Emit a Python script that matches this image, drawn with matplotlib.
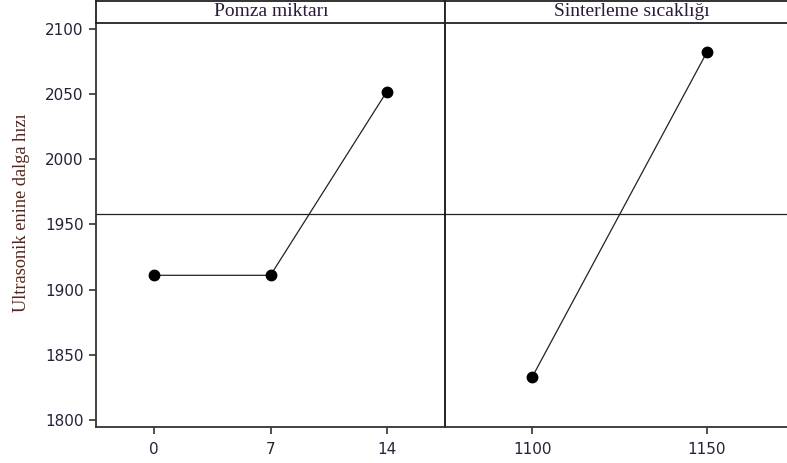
import numpy as np
import matplotlib.pyplot as plt

# values
pomza_levels = ['0', '7', '14']
pomza_means = [1911, 1911, 2052]
sicaklik_levels = ['1100', '1150']
sicaklik_means = [1833, 2082]
grand_mean = 1958
panel_titles = ['Pomza miktarı', 'Sinterleme sıcaklığı']
y_ticks = [1800, 1850, 1900, 1950, 2000, 2050, 2100]

W, H = 787, 463
fig = plt.figure(figsize=(W / 100, H / 100), dpi=100)

tick_color = '#23233a'
serif = ['Liberation Serif', 'DejaVu Serif']

def px(x0, y0, x1, y1):
    # pixel box -> figure fraction
    return [x0 / W, 1 - y1 / H, (x1 - x0) / W, (y1 - y0) / H]

ax1 = fig.add_axes(px(96, 23, 445, 427))
ax2 = fig.add_axes(px(445, 23, 794, 427), sharey=ax1)

for ax, levels, means in [(ax1, pomza_levels, pomza_means),
                          (ax2, sicaklik_levels, sicaklik_means)]:
    xs = np.arange(len(levels))
    ax.plot(xs, means, color='#222222', lw=0.9, marker='o', ms=7.5,
            mfc='black', mec='black', zorder=3)
    ax.axhline(grand_mean, color='#222222', lw=0.9)
    ax.set_xticks(xs)
    ax.set_xticklabels(levels)
    ax.set_xlim(-0.5, len(levels) - 0.5)
    for s in ['top', 'right']:
        ax.spines[s].set_visible(False)
    ax.spines['bottom'].set_linewidth(1.3)
    ax.spines['bottom'].set_color('#333333')
    ax.tick_params(axis='x', length=5, width=1.2, color='#333333',
                   labelsize=11, labelcolor=tick_color, pad=6)

ax1.set_ylim(1794.6, 2104.6)
ax1.set_yticks(y_ticks)
ax1.spines['left'].set_linewidth(1.3)
ax1.spines['left'].set_color('#333333')
ax1.tick_params(axis='y', length=5, width=1.2, color='#333333',
                labelsize=11, labelcolor=tick_color, pad=4)
ax2.spines['left'].set_linewidth(1.3)
ax2.spines['left'].set_color('#111111')
ax2.tick_params(axis='y', left=False, labelleft=False)

fig.text(22 / W, 1 - 213 / H, 'Ultrasonik enine dalga hızı', rotation=90,
         ha='center', va='center', fontsize=13.2, color='#5a2418', family=serif)

# strip headers
for (x0, x1), cx, title in zip([(96, 445), (445, 794)], [271, 632], panel_titles):
    st = fig.add_axes(px(x0, 1, x1, 23))
    st.set_xticks([])
    st.set_yticks([])
    for s in st.spines.values():
        s.set_linewidth(1.3)
        s.set_color('#222222')
    fig.text(cx / W, 1 - 12 / H, title, ha='center', va='center',
             fontsize=14, color='#2a1a3a', family=serif)

fig.savefig('out.png', dpi=100)
